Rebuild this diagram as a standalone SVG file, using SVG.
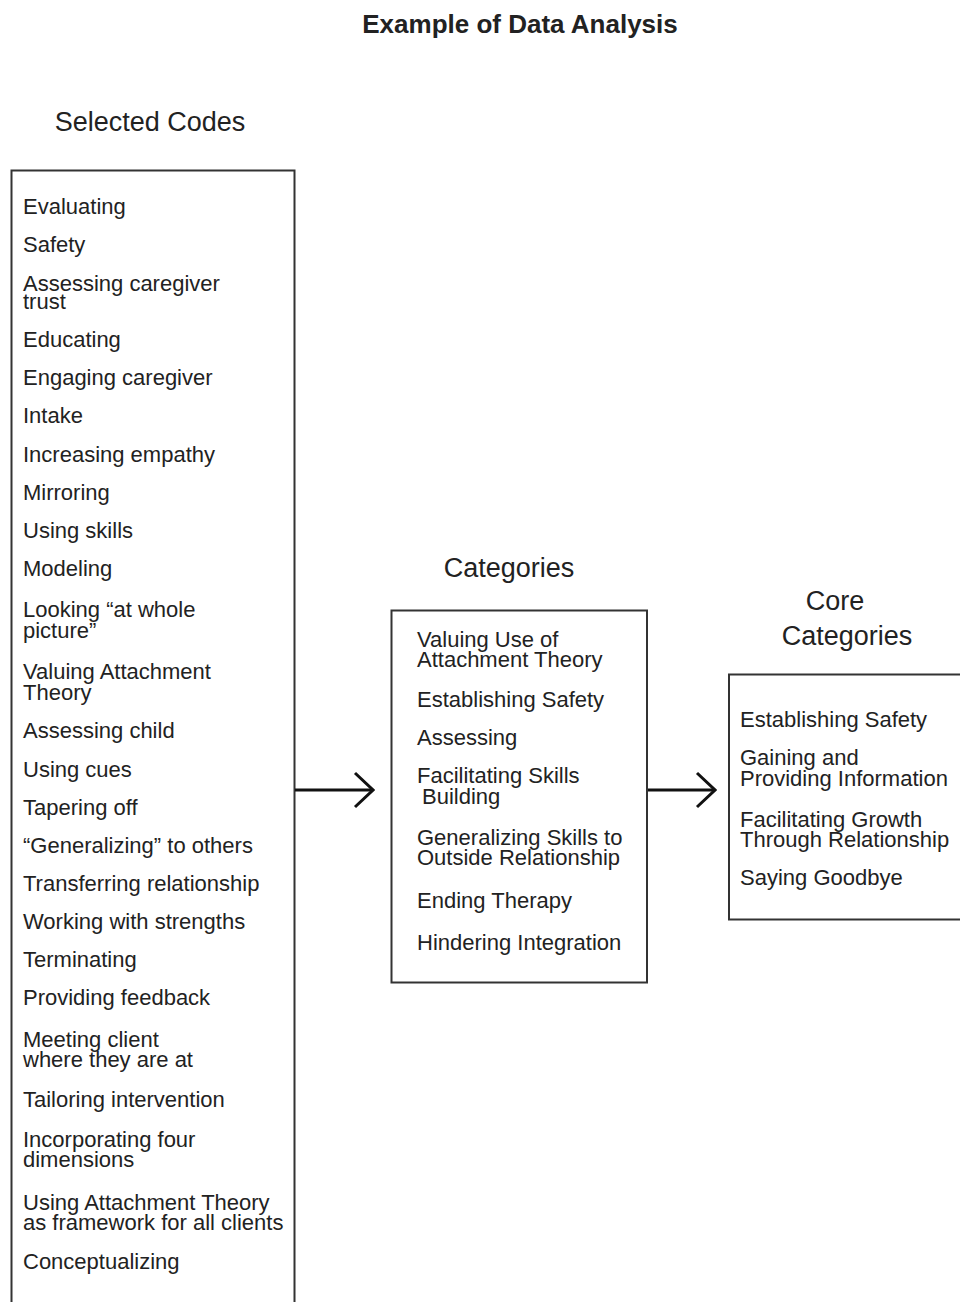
<svg xmlns="http://www.w3.org/2000/svg" width="960" height="1302" viewBox="0 0 960 1302">
<style>
text{font-family:"Liberation Sans",Arial,sans-serif;fill:#222}
.t{font-size:26px;font-weight:bold;text-anchor:middle}
.h{font-size:27px;text-anchor:middle}
.i{font-size:22px}
.box{fill:none;stroke:#333;stroke-width:2}
.conn{stroke:#111;stroke-width:3;fill:none}
</style>
<defs>
<marker id="chev" viewBox="0 0 22 38" refX="20" refY="19" markerWidth="22" markerHeight="38" markerUnits="userSpaceOnUse" orient="auto">
<path d="M2,2 L20,19 L2,36" fill="none" stroke="#111" stroke-width="3"/>
</marker>
</defs>
<rect width="960" height="1302" fill="#fff"/>
<text class="t" x="520" y="33">Example of Data Analysis</text>

<g id="selected-codes">
<text class="h" x="150" y="131">Selected Codes</text>
<rect class="box" x="11.5" y="170.5" width="283" height="1150"/>
<text class="i" x="23" y="214">Evaluating</text>
<text class="i" x="23" y="252">Safety</text>
<text class="i" x="23" y="291">Assessing caregiver</text>
<text class="i" x="23" y="309">trust</text>
<text class="i" x="23" y="347">Educating</text>
<text class="i" x="23" y="385">Engaging caregiver</text>
<text class="i" x="23" y="423">Intake</text>
<text class="i" x="23" y="462">Increasing empathy</text>
<text class="i" x="23" y="500">Mirroring</text>
<text class="i" x="23" y="538">Using skills</text>
<text class="i" x="23" y="576">Modeling</text>
<text class="i" x="23" y="617">Looking “at whole</text>
<text class="i" x="23" y="638">picture”</text>
<text class="i" x="23" y="679">Valuing Attachment</text>
<text class="i" x="23" y="700">Theory</text>
<text class="i" x="23" y="738">Assessing child</text>
<text class="i" x="23" y="777">Using cues</text>
<text class="i" x="23" y="815">Tapering off</text>
<text class="i" x="23" y="853">“Generalizing” to others</text>
<text class="i" x="23" y="891">Transferring relationship</text>
<text class="i" x="23" y="929">Working with strengths</text>
<text class="i" x="23" y="967">Terminating</text>
<text class="i" x="23" y="1005">Providing feedback</text>
<text class="i" x="23" y="1047">Meeting client</text>
<text class="i" x="23" y="1067">where they are at</text>
<text class="i" x="23" y="1107">Tailoring intervention</text>
<text class="i" x="23" y="1147">Incorporating four</text>
<text class="i" x="23" y="1167">dimensions</text>
<text class="i" x="23" y="1210">Using Attachment Theory</text>
<text class="i" x="23" y="1230">as framework for all clients</text>
<text class="i" x="23" y="1269">Conceptualizing</text>
</g>

<g id="categories">
<text class="h" x="509" y="577">Categories</text>
<rect class="box" x="391.5" y="610.5" width="255.5" height="372"/>
<text class="i" x="417" y="647">Valuing Use of</text>
<text class="i" x="417" y="667">Attachment Theory</text>
<text class="i" x="417" y="707">Establishing Safety</text>
<text class="i" x="417" y="745">Assessing</text>
<text class="i" x="417" y="783">Facilitating Skills</text>
<text class="i" x="422" y="804">Building</text>
<text class="i" x="417" y="845">Generalizing Skills to</text>
<text class="i" x="417" y="865">Outside Relationship</text>
<text class="i" x="417" y="908">Ending Therapy</text>
<text class="i" x="417" y="950">Hindering Integration</text>
</g>

<g id="core-categories">
<text class="h" x="835" y="610">Core</text>
<text class="h" x="847" y="645">Categories</text>
<rect class="box" x="729" y="674.5" width="260" height="245"/>
<text class="i" x="740" y="727">Establishing Safety</text>
<text class="i" x="740" y="765">Gaining and</text>
<text class="i" x="740" y="786">Providing Information</text>
<text class="i" x="740" y="827">Facilitating Growth</text>
<text class="i" x="740" y="847">Through Relationship</text>
<text class="i" x="740" y="885">Saying Goodbye</text>
</g>

<g id="connectors">
<line class="conn" x1="295" y1="790" x2="373" y2="790" marker-end="url(#chev)"/>
<line class="conn" x1="648" y1="790" x2="715" y2="790" marker-end="url(#chev)"/>
</g>
</svg>
